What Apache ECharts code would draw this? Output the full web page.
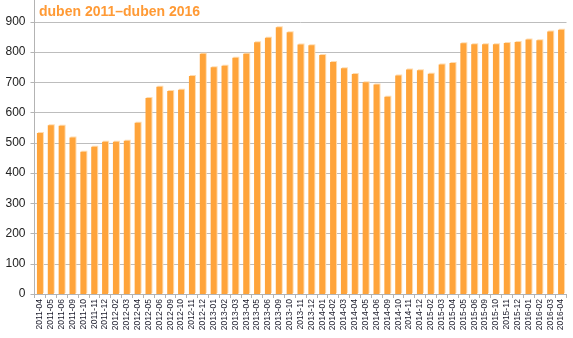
<!DOCTYPE html>
<html>
<head>
<meta charset="utf-8">
<script src="https://cdn.jsdelivr.net/npm/echarts@6/dist/echarts.min.js"></script>
<style>
  html, body { margin: 0; padding: 0; background: #fff; }
  #chart { width: 573px; height: 338px; }
</style>
</head>
<body>
<div id="chart"></div>
<script>
// Months shown on the category axis
const months = [
  '2011-04', '2011-05', '2011-06', '2011-09', '2011-10', '2011-11', '2011-12',
  '2012-02', '2012-03', '2012-04', '2012-05', '2012-06', '2012-09', '2012-10', '2012-11', '2012-12',
  '2013-01', '2013-02', '2013-03', '2013-04', '2013-05', '2013-06', '2013-09', '2013-10', '2013-11', '2013-12',
  '2014-01', '2014-02', '2014-03', '2014-04', '2014-05', '2014-06', '2014-09', '2014-10', '2014-11', '2014-12',
  '2015-02', '2015-03', '2015-04', '2015-05', '2015-06', '2015-09', '2015-10', '2015-11', '2015-12',
  '2016-01', '2016-02', '2016-03', '2016-04'
];

// Monthly values
const values = [
  532, 558, 556, 517, 470, 487, 503,
  503, 507, 566, 648, 685, 671, 675, 721, 794,
  750, 755, 781, 794, 832, 847, 882, 865, 825, 822,
  790, 767, 746, 727, 700, 693, 652, 722, 742, 740,
  728, 759, 764, 829, 826, 826, 826, 830, 833,
  841, 839, 868, 874
];

const titleText = 'duben 2011–duben 2016';

const chart = echarts.init(document.getElementById('chart'), null, { renderer: 'canvas' });

chart.setOption({
  animation: false,
  backgroundColor: '#ffffff',
  title: {
    text: titleText,
    left: 34,
    top: 0,
    textStyle: {
      fontFamily: 'Liberation Sans, Arial, sans-serif',
      fontSize: 14,
      fontWeight: 'bold',
      color: '#ff9a35'
    }
  },
  grid: {
    left: 34.5,
    right: 6.5,
    top: 0,
    bottom: 44,
    containLabel: false
  },
  xAxis: {
    type: 'category',
    data: months,
    axisLine: { lineStyle: { color: '#b3b3b3', width: 1 } },
    axisTick: {
      show: true,
      alignWithLabel: false,
      length: 4,
      lineStyle: { color: '#b3b3b3' }
    },
    axisLabel: {
      interval: 0,
      rotate: 90,
      margin: 5,
      fontFamily: 'Liberation Sans, Arial, sans-serif',
      fontSize: 8.5,
      color: '#1a1a2a'
    }
  },
  yAxis: {
    type: 'value',
    min: 0,
    // axis runs a little past the last labelled gridline
    max: 972,
    interval: 100,
    axisLine: { show: true, lineStyle: { color: '#b3b3b3', width: 1 } },
    axisTick: { show: true, length: 4, lineStyle: { color: '#b3b3b3' } },
    splitLine: {
      show: true,
      showMaxLine: false,
      lineStyle: { color: '#bdbdbd', width: 1 }
    },
    axisLabel: {
      margin: 9,
      showMaxLabel: false,
      formatter: function (v) { return v % 100 === 0 ? String(v) : ''; },
      fontFamily: 'Liberation Sans, Arial, sans-serif',
      fontSize: 12,
      color: '#222222'
    }
  },
  series: [{
    type: 'bar',
    data: values,
    barWidth: 6,
    itemStyle: {
      color: '#ffa43a',
      shadowColor: '#ffdcb0',
      shadowOffsetX: 1,
      shadowOffsetY: -1,
      shadowBlur: 0
    }
  }]
});
</script>
</body>
</html>
